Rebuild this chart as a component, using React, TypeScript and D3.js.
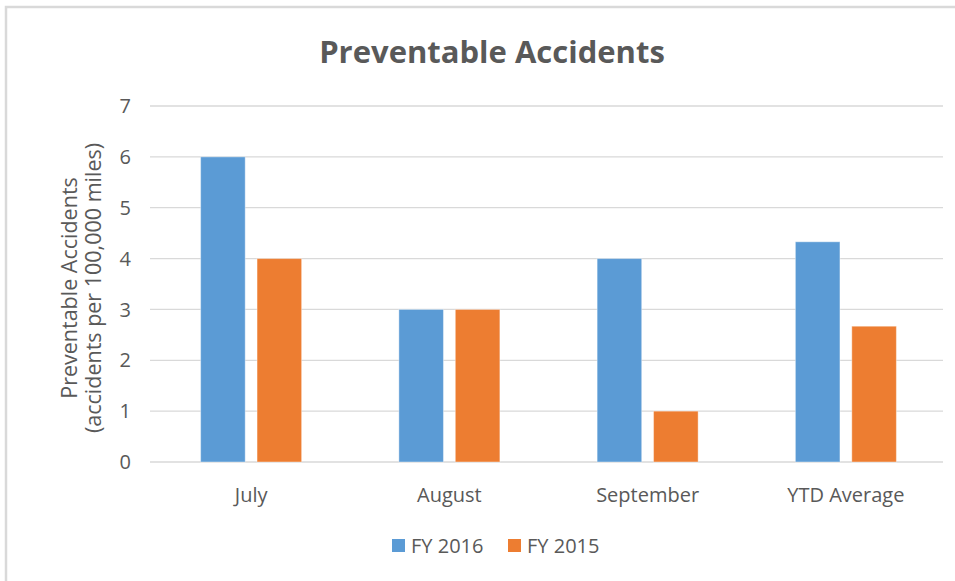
import React from 'react'
import * as d3 from 'd3'

const categories = ['July', 'August', 'September', 'YTD Average']
const seriesNames = ['FY 2016', 'FY 2015']
const fy2016 = [6, 3, 4, 4.33]
const fy2015 = [4, 3, 1, 2.67]
const yTicks = [0, 1, 2, 3, 4, 5, 6, 7]
const colors = ['#5B9BD5', '#ED7D31']

const W = 955, H = 581
const left = 150, right = 943, top = 106, bottom = 462
const font = '"Open Sans", "Noto Sans", sans-serif'
const textColor = '#595959'

export default function App() {
  const x0 = d3.scaleBand().domain(categories).range([left, right]).padding(0)
  const groupW = 101
  const off = (x0.bandwidth() - groupW) / 2 + 2
  const x1 = d3.scaleBand().domain(seriesNames).range([off, off + groupW]).paddingInner(0.21)
  const y = d3.scaleLinear().domain([0, 7]).range([bottom, top])
  const series = [fy2016, fy2015]
  const midY = (top + bottom) / 2 + 4

  return (
    <svg width={W} height={H} style={{ position: 'absolute', left: 0, top: 0, background: '#fff' }}>
      <rect x={6} y={7} width={1200} height={1200} fill="#fff" stroke="#d9d9d9" strokeWidth={2.5} />
      <text x={492} y={63} textAnchor="middle" fontFamily={font} fontWeight="bold" fontSize={31} fill={textColor}>
        Preventable Accidents
      </text>
      {yTicks.map(t => (
        <g key={t}>
          <line x1={left} x2={right} y1={y(t)} y2={y(t)} stroke="#d9d9d9" strokeWidth={1.3} />
          <text x={131} y={y(t)} dy="0.36em" textAnchor="end" fontFamily={font} fontSize={20} fill={textColor}>{t}</text>
        </g>
      ))}
      <text transform={`translate(77,${midY}) rotate(-90)`} textAnchor="middle" fontFamily={font} fontSize={21.5} fill={textColor}>
        Preventable Accidents
      </text>
      <text transform={`translate(101,${midY}) rotate(-90)`} textAnchor="middle" fontFamily={font} fontSize={21.5} fill={textColor}>
        (accidents per 100,000 miles)
      </text>
      {categories.map((c, i) => (
        <g key={c} transform={`translate(${x0(c)},0)`}>
          {seriesNames.map((s, j) => (
            <rect key={s} x={x1(s)} y={y(series[j][i])} width={x1.bandwidth()} height={y(0) - y(series[j][i])}
              fill={colors[j]} stroke="#fff" strokeOpacity={0.4} strokeWidth={1} />
          ))}
          <text x={x0.bandwidth() / 2 + 2} y={502} textAnchor="middle" fontFamily={font} fontSize={20} fill={textColor}>{c}</text>
        </g>
      ))}
      {seriesNames.map((s, j) => (
        <g key={s} transform={`translate(${392 + j * 116},539)`}>
          <rect x={0} y={0} width={13} height={13} fill={colors[j]} />
          <text x={19} y={14} fontFamily={font} fontSize={20} fill={textColor}>{s}</text>
        </g>
      ))}
    </svg>
  )
}
